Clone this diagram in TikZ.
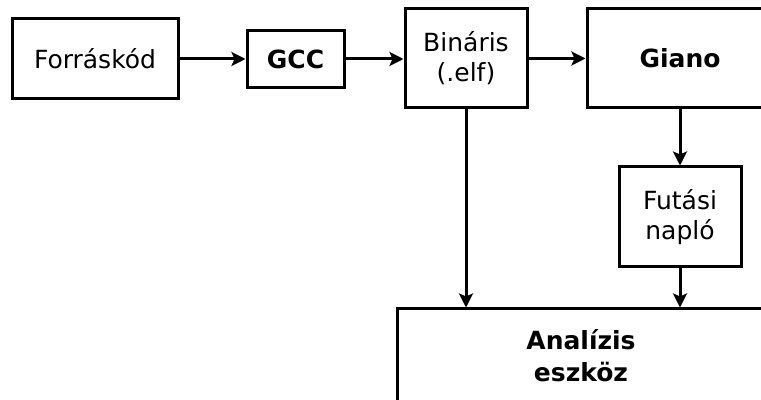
\documentclass[tikz,border=0pt]{standalone}
\usepackage{fontspec}
\setmainfont{DejaVu Sans}
\usetikzlibrary{arrows.meta, positioning, calc}
\tikzset{%
	block/.style={draw, rectangle, line width=1.5pt, align=center, inner sep=0mm,%
		font=\fontsize{12.5}{15}\selectfont},
	bblock/.style={block, font=\fontsize{12.5}{16}\selectfont\bfseries},
	flow/.style={-{Stealth[length=7pt, width=7pt, inset=1.5pt]}, line width=1.5pt}
}

\begin{document}
\begin{tikzpicture}[x=0.5pt, y=-0.5pt]
	\useasboundingbox (0,0) rectangle (761,400);
	\clip (0,0) rectangle (761,400);
	\node[block, minimum width=83pt, minimum height=40pt] (src) at (95,59) {Forráskód};
	\node[bblock, minimum width=48.5pt, minimum height=28.5pt] (gcc) at (295.5,59) {GCC};
	\node[block, minimum width=61pt, minimum height=49.5pt] (bin) at (466,58.5) {Bináris\\(.elf)};
	\node[bblock, minimum width=93pt, minimum height=49.5pt] (giano) at (680,58.5) {Giano};
	\node[block, below=28pt of giano.south, anchor=north, minimum width=61pt, minimum height=50pt] (log) {Futási\\napló};
	\node[bblock, minimum width=184pt, minimum height=47pt] (tool) at (581,356) {Analízis\\eszköz};

	\draw[flow] (src) -- (gcc);
	\draw[flow] (gcc) -- (gcc -| bin.west);
	\draw[flow] (bin) -- (bin -| giano.west);
	\draw[flow] (giano) -- (log);
	\draw[flow] (bin.south) -- (bin.south |- tool.north);
	\draw[flow] (log.south) -- (log.south |- tool.north);
\end{tikzpicture}
\end{document}
